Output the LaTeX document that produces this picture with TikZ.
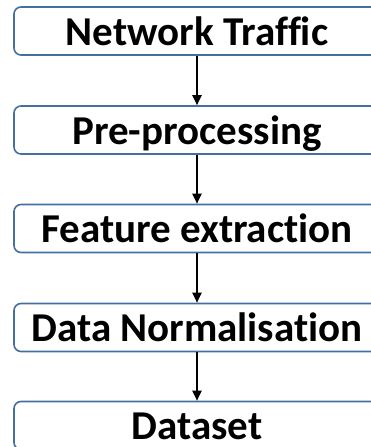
\documentclass[tikz,border=0pt]{standalone}
\usepackage{fontspec}
\setmainfont{Carlito}[Ligatures=NoCommon]
\usetikzlibrary{arrows.meta}
\definecolor{boxline}{RGB}{68,112,160}
\tikzset{
  stage/.style={draw=boxline, line width=1.6pt, rounded corners=7pt, fill=white,
    minimum width=366pt, text height=38pt, text depth=10pt, inner sep=0pt,
    font=\fontsize{41}{45}\selectfont\bfseries},
  flow/.style={line width=2pt, -{Triangle[length=10pt,width=9pt]}}
}
\begin{document}
\begin{tikzpicture}[x=1pt,y=-1pt]
  \useasboundingbox (0,0) rectangle (371,447);
  \clip (0,0) rectangle (371,447);
  \node[stage] (traffic) at (197,31) {Network Traffic};
  \node[stage] (prep) at (197,130) {Pre-processing};
  \node[stage] (feat) at (197,228.5) {Feature extraction};
  \node[stage] (norm) at (197,327.5) {Data Normalisation};
  \node[stage] (data) at (197,425.5) {Dataset};
  \draw[flow] (traffic.south) -- (prep.north);
  \draw[flow] (prep.south) -- (feat.north);
  \draw[flow] (feat.south) -- (norm.north);
  \draw[flow] (norm.south) -- (data.north);
\end{tikzpicture}
\end{document}
